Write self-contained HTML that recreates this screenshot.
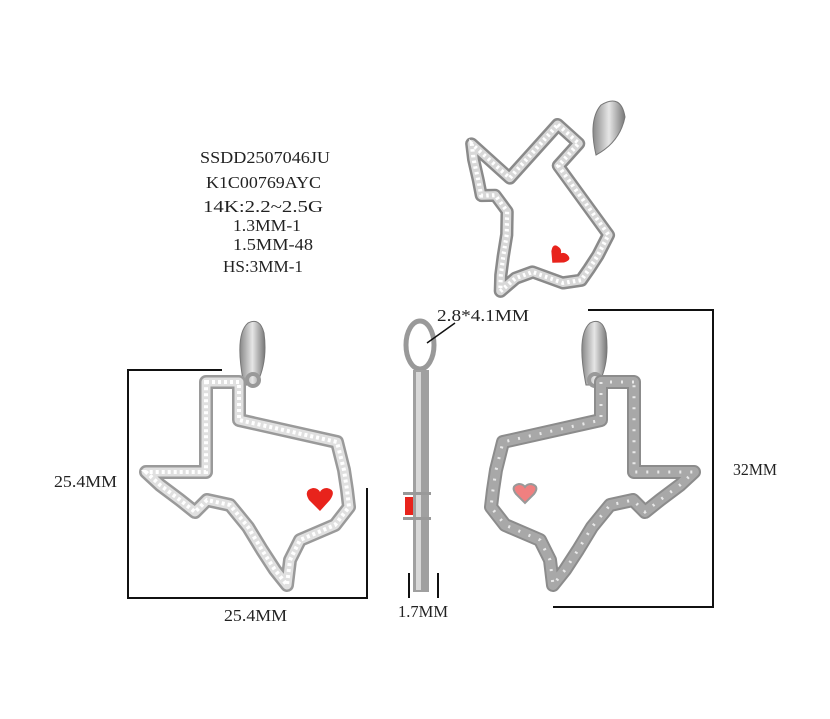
<!DOCTYPE html>
<html><head><meta charset="utf-8"><style>
html,body{margin:0;padding:0;background:#fff;}
svg{display:block;}
text{font-family:"Liberation Serif","Noto Serif CJK SC",serif;font-size:17px;fill:#222;}
</style></head><body>
<svg width="830" height="719" viewBox="0 0 830 719" xmlns="http://www.w3.org/2000/svg">
<defs>
<path id="tx" d="M206,382 L239,382 L239,420 L337,442 L344,470 L347,490 L349,507 L335,525 L300,540 L290,560 L287,585 L275,570 L262,550 L248,527 L230,505 L207,500 L195,512 L180,500 L160,485 L146,472 L206,472 Z"/>
<linearGradient id="bg" x1="0" x2="1"><stop offset="0" stop-color="#888"/><stop offset=".5" stop-color="#e6e6e6"/><stop offset="1" stop-color="#777"/></linearGradient>
</defs>

<!-- text block -->
<text x="200" y="163" textLength="130" lengthAdjust="spacingAndGlyphs">SSDD2507046JU</text>
<text x="206" y="188" textLength="115" lengthAdjust="spacingAndGlyphs">K1C00769AYC</text>
<text x="203" y="212" textLength="120" lengthAdjust="spacingAndGlyphs">14K:2.2~2.5G</text>
<text x="233" y="231" textLength="68" lengthAdjust="spacingAndGlyphs">1.3MM-1</text>
<text x="233" y="250" textLength="80" lengthAdjust="spacingAndGlyphs">1.5MM-48</text>
<text x="223" y="272" textLength="80" lengthAdjust="spacingAndGlyphs">HS:3MM-1</text>

<!-- top perspective view -->
<g transform="translate(530,205) rotate(42) scale(0.85,0.8) translate(-245,-480)">
<use href="#tx" fill="none" stroke="#8a8a8a" stroke-width="16" stroke-linejoin="round"/>
<use href="#tx" fill="none" stroke="#d8d8d8" stroke-width="10" stroke-linejoin="round"/>
<use href="#tx" fill="none" stroke="#fff" stroke-width="5" stroke-dasharray="3 4"/>
<path d="M300,505 q-6,-10 4,-10 q4,0 6,4 q2,-4 6,-4 q10,0 4,10 l-10,10z" fill="#e8231c"/>
</g>
<path d="M596,155 q-8,-35 5,-50 q20,-12 24,12 q-5,25 -29,38z" fill="url(#bg)" stroke="#777"/>

<!-- left front view -->
<path d="M244,385 q-10,-50 4,-62 q12,-6 16,10 q4,30 -8,52z" fill="url(#bg)" stroke="#777"/>
<circle cx="253" cy="380" r="6" fill="none" stroke="#999" stroke-width="4"/>
<use href="#tx" fill="none" stroke="#9a9a9a" stroke-width="14" stroke-linejoin="round"/>
<use href="#tx" fill="none" stroke="#e0e0e0" stroke-width="9" stroke-linejoin="round"/>
<use href="#tx" fill="none" stroke="#fff" stroke-width="4" stroke-dasharray="3 3"/>
<path d="M309,500 q-6,-10 4,-12 q5,0 7,4 q2,-4 7,-4 q10,2 3,12 l-10,11z" fill="#e8231c"/>

<!-- right back view (mirrored) -->
<path d="M586,385 q-10,-50 4,-62 q12,-6 16,10 q4,30 -8,52z" fill="url(#bg)" stroke="#777"/>
<circle cx="595" cy="380" r="6" fill="none" stroke="#999" stroke-width="4"/>
<g transform="translate(840,0) scale(-1,1)">
<use href="#tx" fill="none" stroke="#8c8c8c" stroke-width="14" stroke-linejoin="round"/>
<use href="#tx" fill="none" stroke="#a8a8a8" stroke-width="10" stroke-linejoin="round"/>
<use href="#tx" fill="none" stroke="#e8e8e8" stroke-width="3" stroke-dasharray="2 9"/>
</g>
<path d="M516,494 q-6,-8 3,-10 q4,0 6,3 q2,-3 6,-3 q9,2 3,10 l-9,9z" fill="#f08080" stroke="#999" stroke-width="2"/>

<!-- side view -->
<ellipse cx="420" cy="345" rx="14" ry="24" fill="none" stroke="#999" stroke-width="5"/>
<rect x="413" y="370" width="16" height="222" fill="#a0a0a0"/>
<rect x="416" y="372" width="5" height="218" fill="#d8d8d8"/>
<rect x="403" y="492" width="28" height="3" fill="#999"/>
<rect x="403" y="517" width="28" height="3" fill="#999"/>
<rect x="405" y="497" width="8" height="18" fill="#e8231c"/>
<line x1="427" y1="343" x2="455" y2="323" stroke="#111" stroke-width="1.5"/>

<!-- dimension lines -->
<g stroke="#111" stroke-width="2" fill="none">
<polyline points="222,370 128,370 128,598 367,598 367,488"/>
<polyline points="588,310 713,310 713,607 553,607"/>
<line x1="409" y1="573" x2="409" y2="598"/>
<line x1="438" y1="573" x2="438" y2="598"/>
</g>
<text x="54" y="487" textLength="63" lengthAdjust="spacingAndGlyphs">25.4MM</text>
<text x="224" y="621" textLength="63" lengthAdjust="spacingAndGlyphs">25.4MM</text>
<text x="398" y="617" textLength="50" lengthAdjust="spacingAndGlyphs">1.7MM</text>
<text x="733" y="475" textLength="44" lengthAdjust="spacingAndGlyphs">32MM</text>
<text x="437" y="321" textLength="92" lengthAdjust="spacingAndGlyphs">2.8*4.1MM</text>
</svg>
</body></html>
